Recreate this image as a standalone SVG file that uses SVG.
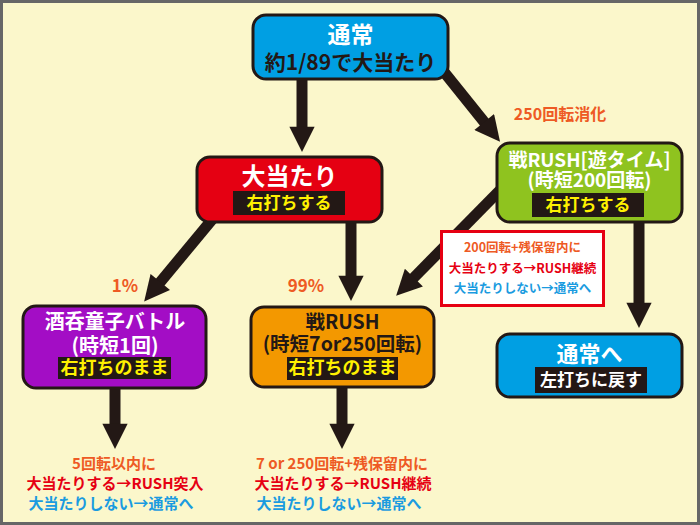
<svg xmlns="http://www.w3.org/2000/svg" width="700" height="525" viewBox="0 0 700 525">
<defs>
<marker id="ah" viewBox="0 0 10 10" refX="0.5" refY="5" markerWidth="2.4" markerHeight="2.3" orient="auto" markerUnits="strokeWidth">
<path d="M0,0 L10,5 L0,10 z" fill="#231815"/>
</marker>
<style>
text{font-family:"Noto Sans CJK JP","Noto Sans",sans-serif;font-weight:700;text-anchor:middle}
.node{stroke:#231815;stroke-width:3}
.band{fill:#231815}
.w{fill:#ffffff}
.k{fill:#231815}
.y{fill:#fff100}
.o{fill:#ee5a24}
.r{fill:#e60012}
.b{fill:#1a9be0}
.arr{stroke:#231815;stroke-width:11;fill:none;marker-end:url(#ah)}
</style>
</defs>
<rect x="1.5" y="1.5" width="697" height="522" fill="#fbf7cb" stroke="#666666" stroke-width="3"/>
<g id="connectors">
<line class="arr" x1="302" y1="70" x2="302" y2="128"/>
<line class="arr" x1="432" y1="57" x2="485" y2="123"/>
<line class="arr" x1="225" y1="204" x2="159.5" y2="283"/>
<line class="arr" x1="351" y1="215" x2="351" y2="277"/>
<line class="arr" x1="510" y1="180" x2="413" y2="278.5"/>
<line class="arr" x1="639" y1="215" x2="639" y2="304"/>
<line class="arr" x1="115" y1="385" x2="115" y2="425"/>
<line class="arr" x1="342" y1="385" x2="342" y2="425"/>
</g>
<g id="label-250">
<text class="o" x="560" y="120" font-size="16">250回転消化</text>
</g>
<g id="label-1">
<text class="o" x="125" y="292" font-size="17">1%</text>
</g>
<g id="label-99">
<text class="o" x="306" y="292" font-size="17">99%</text>
</g>
<g id="node-tsujo">
<rect class="node" x="253" y="15" width="195" height="64" rx="13" fill="#009fe3"/>
<text class="w" x="350.5" y="43" font-size="23">通常</text>
<text class="k" x="350.5" y="70" font-size="21">約1/89で大当たり</text>
</g>
<g id="node-oatari">
<rect class="node" x="197" y="157" width="185" height="65" rx="13" fill="#e50012"/>
<text class="w" x="289.5" y="185" font-size="24">大当たり</text>
<rect class="band" x="233" y="191" width="112" height="24"/>
<text class="y" x="289" y="209" font-size="17">右打ちする</text>
</g>
<g id="node-asobi">
<rect class="node" x="497" y="143" width="185" height="79" rx="13" fill="#8fc31f"/>
<text class="w" x="589.5" y="167" font-size="19">戦RUSH[遊タイム]</text>
<text class="w" x="589.5" y="187" font-size="19">(時短200回転)</text>
<rect class="band" x="532" y="193" width="112" height="24"/>
<text class="y" x="588" y="211" font-size="17">右打ちする</text>
</g>
<g id="note-200">
<rect x="441.5" y="231.5" width="162" height="74" fill="#ffffff" stroke="#e60012" stroke-width="3"/>
<text class="o" x="522.5" y="252" font-size="12.5">200回転+残保留内に</text>
<text class="r" x="522.5" y="273" font-size="12.5">大当たりする→RUSH継続</text>
<text class="b" x="522.5" y="293" font-size="12.5">大当たりしない→通常へ</text>
</g>
<g id="node-shuten">
<rect class="node" x="23" y="306" width="183" height="82" rx="13" fill="#a30dc5"/>
<text class="w" x="115" y="329" font-size="20">酒呑童子バトル</text>
<text class="w" x="115" y="353" font-size="20">(時短1回)</text>
<rect class="band" x="58" y="357" width="113" height="22"/>
<text class="y" x="114.5" y="374" font-size="18">右打ちのまま</text>
</g>
<g id="node-rush">
<rect class="node" x="251" y="307" width="183" height="80" rx="13" fill="#f39800"/>
<text class="k" x="342.5" y="329" font-size="19.5">戦RUSH</text>
<text class="k" x="342.5" y="351" font-size="19.5">(時短7or250回転)</text>
<rect class="band" x="287" y="357" width="111" height="23"/>
<text class="y" x="342.5" y="374" font-size="18">右打ちのまま</text>
</g>
<g id="node-tsujo-he">
<rect class="node" x="497" y="334" width="185" height="63" rx="13" fill="#009fe3"/>
<text class="w" x="589.5" y="362" font-size="22">通常へ</text>
<rect class="band" x="535" y="367" width="112" height="26"/>
<text class="w" x="591" y="386" font-size="17">左打ちに戻す</text>
</g>
<g id="result-shuten">
<text class="o" x="114" y="469" font-size="15">5回転以内に</text>
<text class="r" x="115" y="489" font-size="15">大当たりする→RUSH突入</text>
<text class="b" x="111" y="509" font-size="15">大当たりしない→通常へ</text>
</g>
<g id="result-rush">
<text class="o" x="342" y="469" font-size="15">7 or 250回転+残保留内に</text>
<text class="r" x="343" y="489" font-size="15">大当たりする→RUSH継続</text>
<text class="b" x="339" y="509" font-size="15">大当たりしない→通常へ</text>
</g>
</svg>
